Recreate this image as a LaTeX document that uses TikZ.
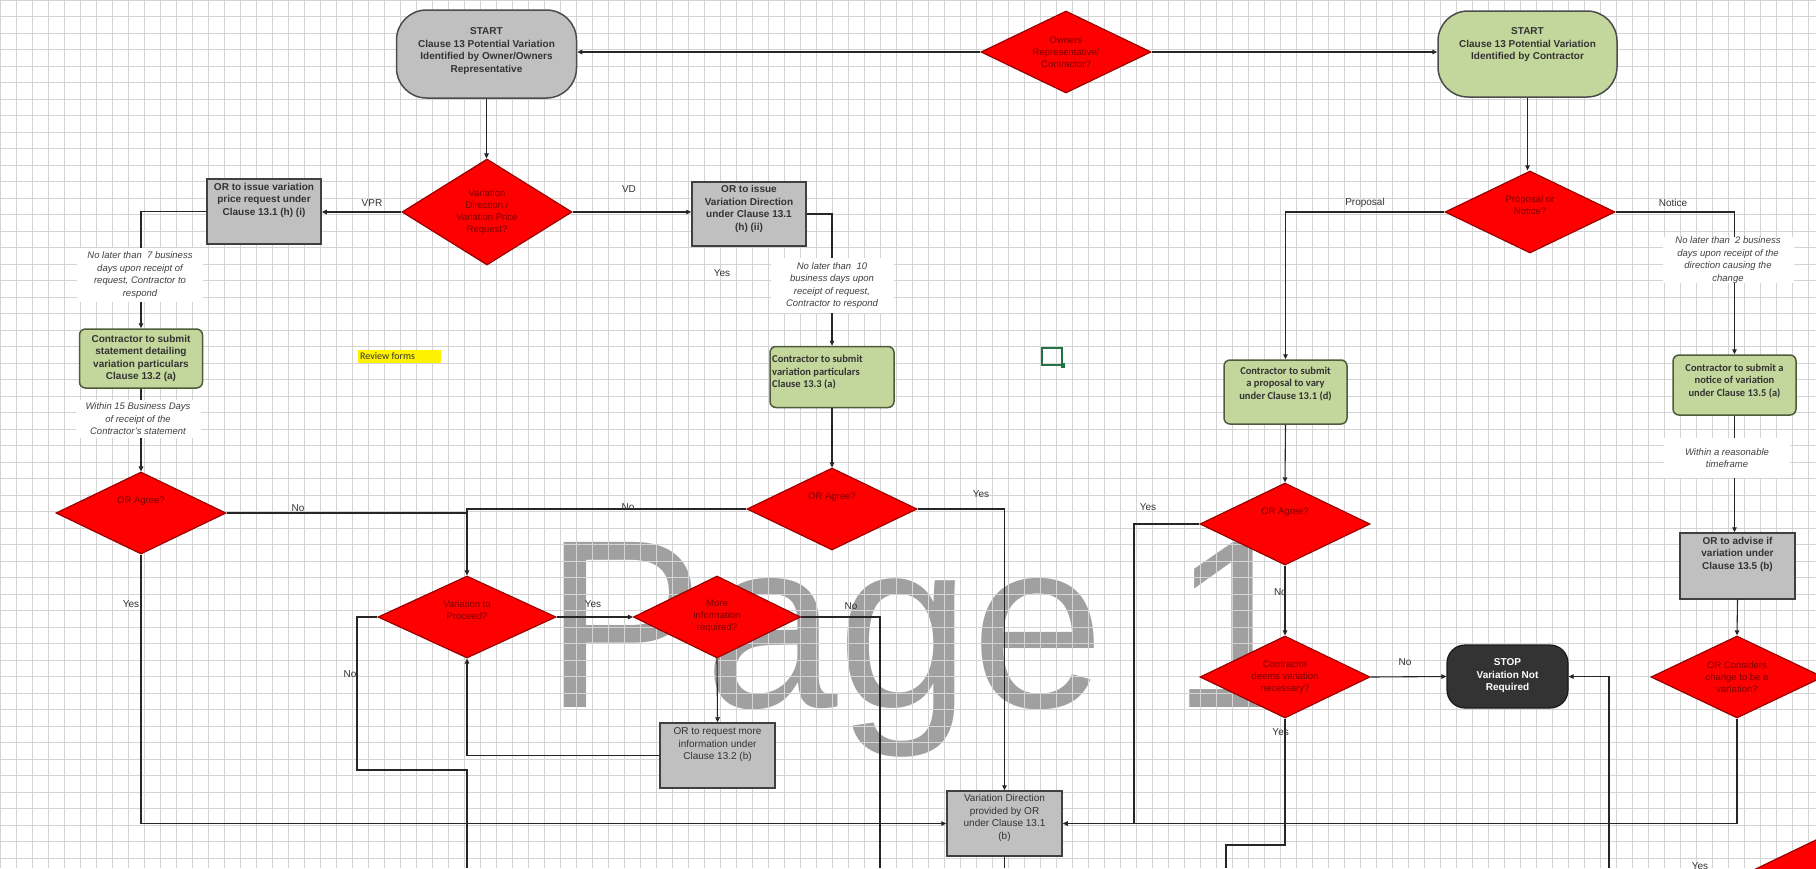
\documentclass[tikz,border=0pt]{standalone}
\usepackage{fontspec}
\setmainfont{Liberation Sans}
\newfontfamily\calfont{Carlito}
\usetikzlibrary{shapes.geometric,arrows.meta,positioning}
\definecolor{gbox}{HTML}{C0C0C0}
\definecolor{grn}{HTML}{C3D69B}
\definecolor{grnb}{HTML}{4F5B3A}
\definecolor{redd}{HTML}{FF0000}
\definecolor{redb}{HTML}{9A0000}
\definecolor{redt}{HTML}{7A0000}
\definecolor{txt}{HTML}{333333}
\definecolor{gridc}{HTML}{D4D4D4}
\definecolor{wm}{HTML}{A0A0A0}
\definecolor{selg}{HTML}{217346}
\begin{document}
\begin{tikzpicture}[x=1pt,y=-1pt,
 conn/.style={draw=black!85, line width=1.1pt},
 arr/.style={conn, -{Triangle[length=5pt,width=4.5pt]}},
 graybox/.style={draw=black!75, line width=1.5pt, fill=gbox, rectangle, inner sep=0pt},
 greenbox/.style={draw=grnb, line width=1.5pt, fill=grn, rectangle, rounded corners=6pt, inner sep=0pt},
 startbox/.style={draw=black!70, line width=1.5pt, rectangle, rounded corners=30pt, inner sep=0pt},
 dia/.style={diamond, draw=redb, line width=1.2pt, fill=redd, inner sep=0pt, minimum width=170pt, minimum height=82pt},
 diat/.style={font=\fontsize{9.5}{12}\selectfont, text=redt, align=center, inner sep=0pt},
 bt/.style={font=\bfseries\fontsize{10}{12.5}\selectfont, text=txt, align=center, inner sep=0pt},
 ct/.style={font=\calfont\bfseries\fontsize{10.5}{12.5}\selectfont, text=txt, align=center, inner sep=0pt},
 note/.style={fill=white, inner sep=0pt, text=black!75, align=center, font=\itshape\fontsize{9.5}{12.5}\selectfont},
 lbl/.style={font=\fontsize{10}{12}\selectfont, text=black!80, inner sep=0pt},
]
\fill[white] (0,0) rectangle (1816,868);
\useasboundingbox (0,0) rectangle (1816,868);
% watermark
\node[anchor=base west, inner sep=0pt, text=wm, font=\fontsize{240}{240}\selectfont] (wmk) at (544,707) {Page 1};
% grid
\foreach \i in {0,...,114} \draw[gridc, line width=0.8pt] (\i*16,0) -- (\i*16,868);
\foreach \j in {0,...,53} \draw[gridc, line width=0.8pt] (0,\j*16.5) -- (1816,\j*16.5);

% ---------- shapes ----------
\node[startbox, fill=gbox, minimum width=180pt, minimum height=88pt] (s1) at (486.5,54) {};
\node[bt] (s1t) at (486.5,51) {START\\Clause 13 Potential Variation\\Identified by Owner/Owners\\Representative};
\node[dia] (d0) at (1066,52) {};
\node[diat] (d0t) at (1066,52) {Owners\\Representative/\\Contractor?};
\node[startbox, fill=grn, minimum width=179pt, minimum height=86pt] (s2) at (1527.5,54) {};
\node[bt] (s2t) at (1527.5,45) {START\\Clause 13 Potential Variation\\Identified by Contractor};

\node[dia, minimum height=106pt] (d1) at (487,212) {};
\node[diat] (d1t) at (487,212) {Variation\\Direction /\\Variation Price\\Request?};
\node[graybox, minimum width=114pt, minimum height=65pt] (bvpr) at (264,211.5) {};
\node[bt] (bvprt) at (264,200) {OR to issue variation\\price request under\\Clause 13.1 (h) (i)};
\node[graybox, minimum width=114pt, minimum height=64pt] (bvd) at (749,214) {};
\node[bt] (bvdt) at (749,209) {OR to issue\\Variation Direction\\under Clause 13.1\\(h) (ii)};

\node[greenbox, minimum width=123pt, minimum height=59pt] (g1) at (141,358.5) {};
\node[bt] (g1t) at (141,358.5) {Contractor to submit\\statement detailing\\variation particulars\\Clause 13.2 (a)};
\node[dia] (d2) at (141,513) {};
\node[diat] (d2t) at (141,501) {OR Agree?};

\node[fill=yellow, inner sep=0pt, minimum width=83pt, minimum height=13pt, anchor=north west] (rev) at (358,350) {};
\node[anchor=west, inner sep=0pt, font=\calfont\fontsize{10}{12}\selectfont, text=black!80] (revt) at (360,356.5) {Review forms};
\node[draw=selg, line width=2pt, minimum width=20pt, minimum height=17pt, inner sep=0pt] (sel) at (1052,356) {};
\node[fill=selg, minimum size=4.5pt, inner sep=0pt] (selh) at (sel.south east) {};

\node[greenbox, minimum width=124pt, minimum height=61pt] (g2) at (832,377) {};
\node[ct, align=left, anchor=north west] (g2t) at (772,355) {Contractor to submit\\variation particulars\\Clause 13.3 (a)};
\node[dia] (d3) at (832,509) {};
\node[diat] (d3t) at (832,497) {OR Agree?};

\node[dia, minimum width=178pt] (d4) at (467,617) {};
\node[diat] (d4t) at (467,610) {Variation to\\Proceed?};
\node[dia, minimum width=167pt] (d5) at (717,617) {};
\node[diat] (d5t) at (717,616) {More\\information\\required?};
\node[graybox, minimum width=115pt, minimum height=65pt] (breq) at (717.5,755.5) {};
\node[bt, font=\fontsize{10}{12.5}\selectfont] (breqt) at (717.5,745) {OR to request more\\information under\\Clause 13.2 (b)};
\node[graybox, minimum width=115pt, minimum height=65pt] (bvdo) at (1004.5,823.5) {};
\node[bt, font=\fontsize{10}{12.5}\selectfont] (bvdot) at (1004.5,818) {Variation Direction\\provided by OR\\under Clause 13.1\\(b)};

\node[dia] (d6) at (1530,212) {};
\node[diat] (d6t) at (1530,205) {Proposal or\\Notice?};
\node[greenbox, minimum width=123pt, minimum height=64pt] (g3) at (1285.5,392) {};
\node[ct] (g3t) at (1285.5,384) {Contractor to submit\\a proposal to vary\\under Clause 13.1 (d)};
\node[greenbox, minimum width=123pt, minimum height=60pt] (g4) at (1734.5,385) {};
\node[ct] (g4t) at (1734.5,381) {Contractor to submit a\\notice of variation\\under Clause 13.5 (a)};
\node[graybox, minimum width=115pt, minimum height=66pt] (badv) at (1737.5,566) {};
\node[bt] (badvt) at (1737.5,554) {OR to advise if\\variation under\\Clause 13.5 (b)};
\node[dia, minimum width=172pt] (d7) at (1737,677) {};
\node[diat] (d7t) at (1737,677) {OR Considers\\change to be a\\variation?};
\node[dia] (d8) at (1285,524) {};
\node[diat] (d8t) at (1285,512) {OR Agree?};
\node[dia] (d9) at (1285,677) {};
\node[diat] (d9t) at (1285,677) {Contractor\\deems variation\\necessary?};
\node[draw=black!90, fill=black!80, line width=1.2pt, rectangle, rounded corners=18pt, minimum width=121pt, minimum height=63pt, inner sep=0pt] (stop) at (1507.5,676.5) {};
\node[bt, text=white] (stopt) at (1507.5,676) {STOP\\Variation Not\\Required};
% partly visible diamond at the bottom-right corner
\node[dia] (d10) at (1830,874) {};

% ---------- free ends ----------
\coordinate (c1) at (357,770);
\coordinate (e2) at (467,868);
\coordinate (e1) at (880,868);
\coordinate (e0) at (1004.5,868);
\coordinate (j1) at (1134,823.5);
\coordinate (c2) at (1285,845);
\coordinate (e4) at (1226,868);
\coordinate (e3) at (1609,868);

% ---------- connectors ----------
\draw[arr] (d0.west) -- (d0.west -| s1.east);
\draw[arr] (d0.east) -- (d0.east -| s2.west);
\draw[arr] (s1.south) -- (s1.south |- d1.north);
\draw[arr] (d1.west) -- (d1.west -| bvpr.east);
\draw[arr] (d1.east) -- (d1.east -| bvd.west);
\draw[arr] (bvpr.west) -| (g1.north);
\draw[arr] (g1.south) -- (d2.north);
\draw[arr] (bvd.east) -| (g2.north);
\draw[arr] (g2.south) -- (d3.north);
\draw[conn] (d2.east) -- (d2.east -| d4.north);
\draw[arr] (d3.west) -| (d4.north);
\draw[arr] (d2.south) |- (bvdo.west);
\draw[arr] (d3.east) -| (bvdo.north);
\draw[arr] (d4.east) -- (d5.west);
\draw[arr] (d5.south) -- (breq.north);
\draw[conn] (d5.east) -| (e1);
\draw[arr] (breq.west) -| (d4.south);
\draw[conn] (d4.west) -| (c1) -- (c1 -| e2) -- (e2);
\draw[conn] (bvdo.south) -- (e0);
\draw[arr] (s2.south) -- (s2.south |- d6.north);
\draw[arr] (d6.west) -| (g3.north);
\draw[arr] (d6.east) -| (g4.north);
\draw[arr] (g3.south) -- (d8.north);
\draw[arr] (g4.south) -- (g4.south |- badv.north);
\draw[arr] (badv.south) -- (d7.north);
\draw[arr] (d7.south) |- (bvdo.east);
\draw[conn] (d8.west) -| (j1);
\draw[arr] (d8.south) -- (d9.north);
\draw[arr] (d9.east) -- (stop.west);
\draw[arr] (e3) |- (stop.east);
\draw[conn] (d9.south) -- (c2) -| (e4);

% ---------- notes ----------
\node[note, minimum width=126pt, minimum height=54pt] (n1) at (140,275) {No later than\ \ 7 business\\days upon receipt of\\request, Contractor to\\respond};
\node[note, minimum width=125pt, minimum height=38pt] (n2) at (138,419) {Within 15 Business Days\\of receipt of the\\Contractor's statement};
\node[note, minimum width=123pt, minimum height=55pt] (n3) at (832,285.5) {No later than\ \ 10\\business days upon\\receipt of request,\\Contractor to respond};
\node[note, minimum width=131pt, minimum height=46pt] (n4) at (1728,260) {No later than\ \ 2 business\\days upon receipt of the\\direction causing the\\change};
\node[note, minimum width=126pt, minimum height=40pt] (n5) at (1727,458) {Within a reasonable\\timeframe};

% ---------- labels ----------
\node[lbl] (l1) at (372,203) {VPR};
\node[lbl] (l2) at (629,189) {VD};
\node[lbl] (l3) at (722,273) {Yes};
\node[lbl] (l4) at (298,508) {No};
\node[lbl] (l5) at (628,507) {No};
\node[lbl] (l6) at (981,494) {Yes};
\node[lbl] (l7) at (131,604) {Yes};
\node[lbl] (l8) at (593,604) {Yes};
\node[lbl] (l9) at (851,606) {No};
\node[lbl] (l10) at (350,674) {No};
\node[lbl] (l11) at (1365,203) {Proposal};
\node[lbl] (l12) at (1673,203) {Notice};
\node[lbl] (l13) at (1148,507) {Yes};
\node[lbl, anchor=east] (l14) at (1287,592) {No};
\node[lbl] (l15) at (1405,662) {No};
\node[lbl, anchor=east] (l16) at (1289,732) {Yes};
\node[lbl] (l17) at (1700,866) {Yes};
\end{tikzpicture}
\end{document}
